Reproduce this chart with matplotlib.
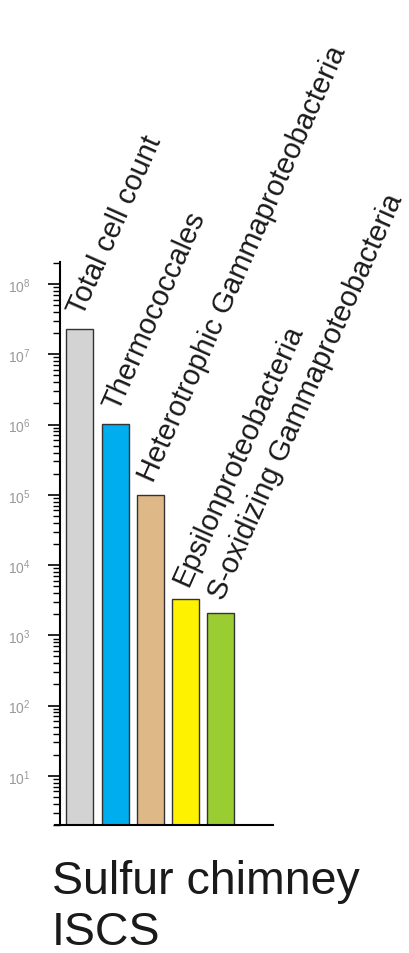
import numpy as np
import matplotlib.pyplot as plt
from matplotlib.ticker import LogLocator, NullFormatter

plt.rcParams['font.family'] = ['Liberation Sans', 'DejaVu Sans']

groups = ['Total cell count', 'Thermococcales', 'Heterotrophic Gammaproteobacteria',
          'Epsilonproteobacteria', 'S-oxidizing Gammaproteobacteria']
counts = [2.3e7, 1.03e6, 1.0e5, 3.3e3, 2.1e3]
colors = ['#d3d3d3', '#00aeef', '#deb887', '#fff200', '#9acd32']

fig = plt.figure(figsize=(4.09, 9.54), dpi=100)
ax = fig.add_axes([0.1467, 0.1342, 0.521, 0.590])

x = np.arange(len(groups))
w = 0.77
ax.bar(x, counts, width=w, color=colors, edgecolor='#333333', linewidth=1.0)
ax.set_yscale('log')
ax.set_ylim(2.0, 2.05e8)
ax.set_xlim(-0.57, 5.51)

# labels written along the bars
for xi, v, name in zip(x, counts, groups):
    ax.annotate(name, xy=(xi - w / 2, v), xytext=(12, 9), textcoords='offset points',
                rotation=66, rotation_mode='anchor', ha='left', va='baseline',
                fontsize=21, color='#1a1a1a')

ax.spines['top'].set_visible(False)
ax.spines['right'].set_visible(False)
ax.spines['left'].set_linewidth(1.5)
ax.spines['bottom'].set_linewidth(1.5)
ax.spines['bottom'].set_bounds(-0.71, 5.51)
ax.set_xticks([])
ax.yaxis.set_major_locator(LogLocator(base=10, numticks=20))
ax.yaxis.set_minor_locator(LogLocator(base=10, subs=np.arange(2, 10), numticks=20))
ax.yaxis.set_minor_formatter(NullFormatter())
ax.tick_params(axis='y', which='major', length=9, width=1.2, pad=12, labelsize=10, labelcolor='#999999')
ax.tick_params(axis='y', which='minor', length=5, width=1.0)

fig.text(52 / 409, 1 - 945 / 954, 'Sulfur chimney\nISCS', fontsize=33.5, ha='left', va='baseline',
         color='#1a1a1a', linespacing=1.2)

fig.savefig('out.png', dpi=100)
